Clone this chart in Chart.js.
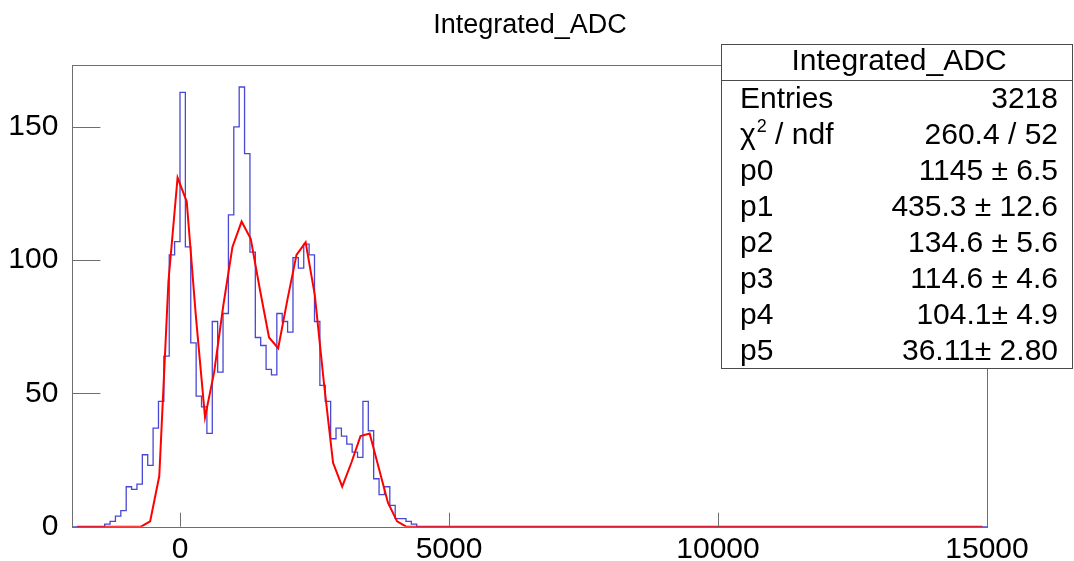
<!DOCTYPE html>
<html><head><meta charset="utf-8">
<script src="https://cdn.jsdelivr.net/npm/chart.js@4.4.0/dist/chart.umd.min.js"></script>
<style>html,body{margin:0;padding:0;background:#fff;}#wrap{width:1074px;height:561px;position:relative;}</style>
</head><body><div id="wrap"><canvas id="c" width="1074" height="561"></canvas></div>
<script>
const chartTitle = 'Integrated_ADC';
const xRange = [-2000, 15000];
const yMax = 173.25;
const xTicks = [0, 5000, 10000, 15000];
const yTicks = [0, 50, 100, 150];
const binWidth = 100;
const binLowEdges = [-1400,-1300,-1200,-1100,-1000,-900,-800,-700,-600,-500,-400,-300,-200,-100,
  0,100,200,300,400,500,600,700,800,900,1000,1100,1200,1300,1400,1500,1600,1700,1800,1900,
  2000,2100,2200,2300,2400,2500,2600,2700,2800,2900,3000,3100,3200,3300,3400,3500,3600,3700,
  3800,3900,4000,4100,4200,4300];
const binCounts = [1,2,4,6,15,14,16,27,23,37,47,64,102,107,
  163,105,69,49,45,35,77,58,80,117,150,165,140,103,71,68,59,57,80,77,
  73,101,97,106,102,77,53,47,33,37,34,31,28,26,47,36,18,12,
  15,8,3,3,2,1];
const fitX = [-1915,-725,-555,-385,-215,-45,125,295,465,635,805,975,1145,1315,1485,1655,1825,1995,
  2165,2335,2505,2675,2845,3015,3185,3355,3525,3695,3865,4035,4205,14915];
const fitY = [0,0,2,19,92,131,122,79,41,58,83,105,114.5,108,89,71,67,85,
  102,106.7,87,54,24,15,24,34,35,22,9,2,0,0];
const statTitle = 'Integrated_ADC';
const statLabels = ['Entries','χ2 / ndf','p0','p1','p2','p3','p4','p5'];
const statValues = ['3218','260.4 / 52','1145 ± 6.5','435.3 ± 12.6','134.6 ± 5.6','114.6 ± 4.6','104.1± 4.9','36.11± 2.80'];

const FONT = '"Liberation Sans", Arial, Helvetica, sans-serif';

const histData = [{x: xRange[0], y: 0}];
binLowEdges.forEach((e, i) => histData.push({x: e, y: binCounts[i]}));
histData.push({x: binLowEdges[binLowEdges.length - 1] + binWidth, y: 0});
histData.push({x: xRange[1], y: 0});
const fitData = fitX.map((x, i) => ({x, y: fitY[i]}));

const rootPlugin = {
  id: 'rootDecor',
  afterDraw(chart) {
    const ctx = chart.ctx;
    const a = chart.chartArea;
    const xs = chart.scales.x, ys = chart.scales.y;
    ctx.save();
    ctx.strokeStyle = '#6e6e6e';
    ctx.lineWidth = 1;
    ctx.strokeRect(Math.round(a.left) + 0.5, Math.round(a.top) + 0.5, Math.round(a.right - a.left), Math.round(a.bottom - a.top));
    ctx.beginPath();
    xTicks.forEach(v => {
      const px = Math.round(xs.getPixelForValue(v)) + 0.5;
      ctx.moveTo(px, a.bottom); ctx.lineTo(px, a.bottom - 14);
    });
    yTicks.forEach(v => {
      const py = Math.round(ys.getPixelForValue(v)) + 0.5;
      ctx.moveTo(a.left, py); ctx.lineTo(a.left + 28, py);
    });
    ctx.stroke();
    ctx.fillStyle = '#000';
    ctx.font = '27px ' + FONT;
    ctx.textAlign = 'center';
    ctx.textBaseline = 'middle';
    ctx.fillText(chartTitle, 530, 26);
    const bx = 721.5, by = 44.5, bw = 351, bh = 324;
    ctx.fillStyle = '#fff';
    ctx.fillRect(bx, by, bw, bh);
    ctx.strokeStyle = '#4a4a4a';
    ctx.strokeRect(bx, by, bw, bh);
    ctx.beginPath(); ctx.moveTo(bx, 80.5); ctx.lineTo(bx + bw, 80.5); ctx.stroke();
    ctx.fillStyle = '#000';
    ctx.font = '30px ' + FONT;
    ctx.textAlign = 'center';
    ctx.fillText(statTitle, 899, 62);
    const rowY0 = 99.5, rowH = 36.1;
    statLabels.forEach((lab, i) => {
      const y = rowY0 + i * rowH;
      ctx.textAlign = 'left';
      if (lab.startsWith('χ2')) {
        ctx.font = '30px ' + FONT;
        ctx.fillText('χ', 740, y);
        const w = ctx.measureText('χ').width;
        ctx.font = '18px ' + FONT;
        ctx.fillText('2', 740 + w + 1, y - 9);
        const w2 = ctx.measureText('2').width;
        ctx.font = '30px ' + FONT;
        ctx.fillText(lab.slice(2), 740 + w + 1 + w2, y);
      } else {
        ctx.font = '30px ' + FONT;
        ctx.fillText(lab, 740, y);
      }
      ctx.textAlign = 'right';
      ctx.font = '30px ' + FONT;
      ctx.fillText(statValues[i], 1058, y);
    });
    ctx.restore();
  }
};

new Chart(document.getElementById('c'), {
  type: 'line',
  data: {
    datasets: [
      {label: 'hist', data: histData, stepped: 'before', borderColor: 'rgb(72,72,212)', borderWidth: 1.3,
       pointRadius: 0, fill: false, order: 1},
      {label: 'fit', data: fitData, borderColor: '#ff0000', borderWidth: 2, tension: 0,
       pointRadius: 0, fill: false, order: 0}
    ]
  },
  options: {
    responsive: false,
    animation: false,
    devicePixelRatio: 1,
    layout: {padding: {left: 0, right: 87, top: 65, bottom: 0}},
    plugins: {legend: {display: false}, tooltip: {enabled: false}, title: {display: false}},
    scales: {
      x: {
        type: 'linear', min: xRange[0], max: xRange[1], position: 'bottom',
        grid: {display: false}, border: {display: false},
        afterBuildTicks: s => { s.ticks = xTicks.map(v => ({value: v})); },
        afterFit: s => { s.height = 34.3; },
        ticks: {font: {family: FONT, size: 30}, color: '#000', padding: -3, maxRotation: 0, autoSkip: false,
                callback: v => String(v)}
      },
      y: {
        type: 'linear', min: 0, max: yMax,
        grid: {display: false}, border: {display: false},
        afterBuildTicks: s => { s.ticks = yTicks.map(v => ({value: v})); },
        afterFit: s => { s.width = 72.4; },
        ticks: {font: {family: FONT, size: 30}, color: '#000', padding: 6, callback: v => String(v)}
      }
    }
  },
  plugins: [rootPlugin]
});
</script></body></html>
